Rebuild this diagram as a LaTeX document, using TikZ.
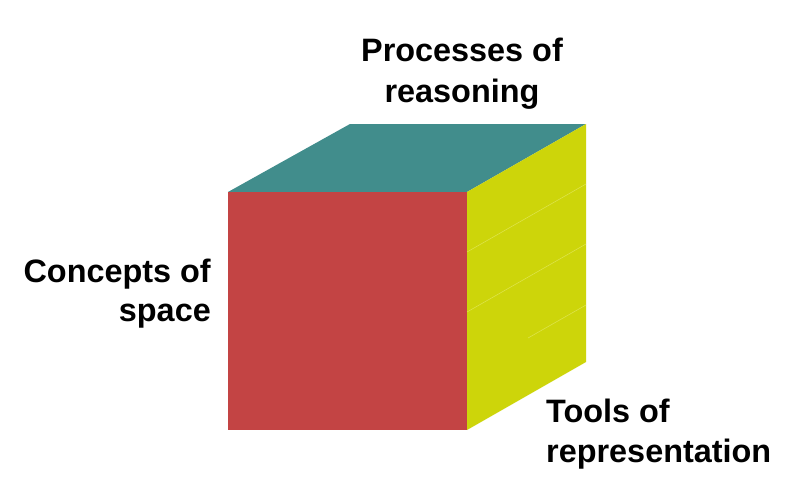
\documentclass[tikz,border=0pt]{standalone}
\usepackage{fontspec}
\setmainfont{Liberation Sans}
\definecolor{frontred}{HTML}{C34444}
\definecolor{topteal}{HTML}{418D8C}
\definecolor{sideyellow}{HTML}{CDD50A}
\definecolor{sideline}{HTML}{DDE34A}
\begin{document}
\begin{tikzpicture}[x=1pt,y=-1pt,
  lbl/.style={font=\fontsize{32.4}{40}\selectfont\bfseries, inner sep=0pt, anchor=base},
  face/.style={line width=0pt}]
\useasboundingbox[fill=white] (0,0) rectangle (797,487);
% cube corners
\coordinate (ftl) at (228,192);
\coordinate (ftr) at (467,192);
\coordinate (fbl) at (228,430);
\coordinate (fbr) at (467,430);
\coordinate (btl) at (350,124);
\coordinate (btr) at (586,124);
\coordinate (bbr) at (586,362);
% faces
\fill[topteal, face] (ftl) -- (btl) -- (btr) -- (ftr) -- cycle;
\fill[sideyellow, face] (ftr) -- (btr) -- (bbr) -- (fbr) -- cycle;
\fill[frontred, face] (ftl) -- (ftr) -- (fbr) -- (fbl) -- cycle;
% faint lines on the side face
\coordinate (l1a) at (467,252); \coordinate (l1b) at (586,184);
\coordinate (l2a) at (467,312); \coordinate (l2b) at (586,244);
\coordinate (l3a) at (528,338); \coordinate (l3b) at (586,305);
\draw[sideline, line width=0.6pt] (l1a) -- (l1b);
\draw[sideline, line width=0.6pt] (l2a) -- (l2b);
\draw[sideline, line width=0.6pt] (l3a) -- (l3b);
% labels
\node[lbl] (proc1) at (462,62) {Processes of};
\node[lbl] (proc2) at (462,102) {reasoning};
\node[lbl, anchor=base east] (conc1) at (211,282) {Concepts of};
\node[lbl, anchor=base east] (conc2) at (211,321) {space};
\node[lbl, anchor=base west] (tool1) at (546,422) {Tools of};
\node[lbl, anchor=base west] (tool2) at (546,462) {representation};
\end{tikzpicture}
\end{document}
